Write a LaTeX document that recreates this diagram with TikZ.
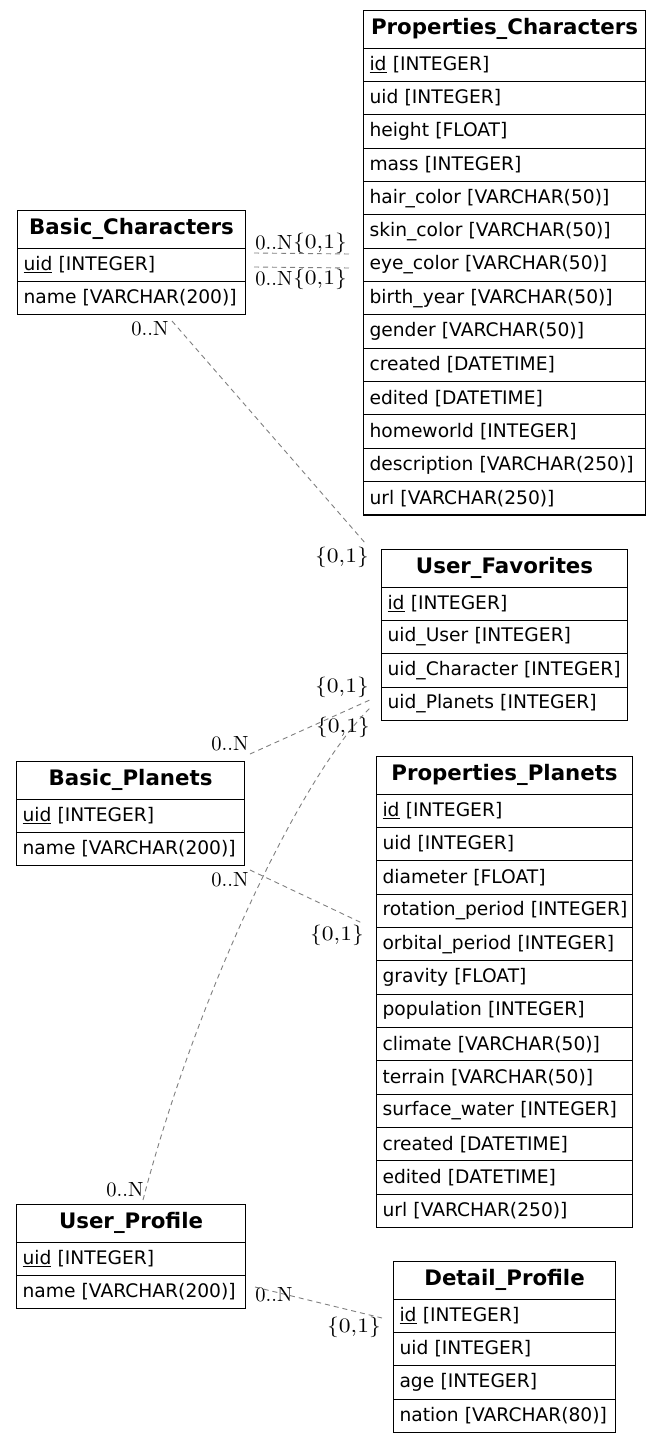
\documentclass[tikz,border=0pt]{standalone}
\usepackage{fontspec}
\newfontfamily\tblfont{DejaVu Sans}
\definecolor{relgray}{HTML}{808080}
\tikzset{
  tbltitle/.style={draw=black, line width=1.1pt, anchor=north west, inner xsep=6pt, inner ysep=0pt,
    minimum height=37.5pt, align=center, font={\tblfont\bfseries\fontsize{21.33}{25}\selectfont}},
  tblrow/.style={draw=black, line width=1.1pt, anchor=north west, inner xsep=6pt, inner ysep=0pt,
    minimum height=33.35pt, align=left, font={\tblfont\fontsize{18.67}{22}\selectfont}},
  rel/.style={draw=relgray, line width=0.9pt, dash pattern=on 5pt off 4pt},
  card/.style={font={\fontsize{10}{12}\selectfont}, inner sep=0pt, text=black}
}
\newcommand\erdtable[6]{%
  \pgfmathsetmacro\erdtw{#4-12}%
  \node[tbltitle, text width=\erdtw pt] (#1) at (#2,#3) {\mbox{#5}};
  \foreach [count=\i] \r in {#6} {
    \pgfmathsetmacro\erdy{#3+37.5+(\i-1)*33.35}
    \node[tblrow, text width=\erdtw pt] (#1-\i) at (#2,\erdy) {\mbox{\r}};
  }
}
\newcommand\cardmany{\scalebox{2.05}{0..N}}
\newcommand\cardone{\scalebox{2.35}[2.05]{\{0,1\}}}
\begin{document}
\begin{tikzpicture}[x=1pt,y=-1pt]
\fill[white] (0,0) rectangle (661,1443);
\useasboundingbox (0,0) rectangle (661,1443);

\erdtable{pc}{363}{10}{282}{Properties\_Characters}{\underline{id} [INTEGER],uid [INTEGER],height [FLOAT],mass [INTEGER],hair\_color [VARCHAR(50)],skin\_color [VARCHAR(50)],eye\_color [VARCHAR(50)],birth\_year [VARCHAR(50)],gender [VARCHAR(50)],created [DATETIME],edited [DATETIME],homeworld [INTEGER],description [VARCHAR(250)],url [VARCHAR(250)]}
\erdtable{bc}{17}{210}{228}{Basic\_Characters}{\underline{uid} [INTEGER],name [VARCHAR(200)]}
\erdtable{uf}{381}{549}{246}{User\_Favorites}{\underline{id} [INTEGER],uid\_User [INTEGER],uid\_Character [INTEGER],uid\_Planets [INTEGER]}
\erdtable{bp}{16}{761}{228}{Basic\_Planets}{\underline{uid} [INTEGER],name [VARCHAR(200)]}
\erdtable{pp}{376}{756}{256}{Properties\_Planets}{\underline{id} [INTEGER],uid [INTEGER],diameter [FLOAT],rotation\_period [INTEGER],orbital\_period [INTEGER],gravity [FLOAT],population [INTEGER],climate [VARCHAR(50)],terrain [VARCHAR(50)],surface\_water [INTEGER],created [DATETIME],edited [DATETIME],url [VARCHAR(250)]}
\erdtable{up}{16}{1204}{229}{User\_Profile}{\underline{uid} [INTEGER],name [VARCHAR(200)]}
\erdtable{dp}{393}{1261}{222}{Detail\_Profile}{\underline{id} [INTEGER],uid [INTEGER],age [INTEGER],nation [VARCHAR(80)]}

% connector ends
\coordinate (e1s) at (254,253); \coordinate (e1t) at (350,254);
\coordinate (e2s) at (254,267); \coordinate (e2t) at (350,268);
\coordinate (e3s) at (172,321); \coordinate (e3t) at (366,544);
\coordinate (e4s) at (250,754); \coordinate (e4t) at (372,699);
\coordinate (e5s) at (143,1200); \coordinate (e5t) at (372,706);
\coordinate (e6s) at (250,870); \coordinate (e6t) at (362,923);
\coordinate (e7s) at (255,1287); \coordinate (e7t) at (382,1318);

\draw[rel] (e1s) -- (e1t);
\draw[rel] (e2s) -- (e2t);
\draw[rel] (e3s) -- (e3t);
\draw[rel] (e4s) -- (e4t);
\draw[rel] (e5s) .. controls (195,1000) and (300,775) .. (e5t);
\draw[rel] (e6s) -- (e6t);
\draw[rel] (e7s) -- (e7t);

\node[card] (l1a) at (274,243) {\cardmany};
\node[card] (l1b) at (320,243) {\cardone};
\node[card] (l2a) at (274,279) {\cardmany};
\node[card] (l2b) at (320,279) {\cardone};
\node[card] (l3a) at (150,329) {\cardmany};
\node[card] (l3b) at (342,557) {\cardone};
\node[card] (l4a) at (230,744) {\cardmany};
\node[card] (l4b) at (342,687) {\cardone};
\node[card] (l5a) at (125,1190) {\cardmany};
\node[card] (l5b) at (343,727) {\cardone};
\node[card] (l6a) at (230,880) {\cardmany};
\node[card] (l6b) at (337,935) {\cardone};
\node[card] (l7a) at (274,1295) {\cardmany};
\node[card] (l7b) at (354,1327) {\cardone};
\end{tikzpicture}
\end{document}
